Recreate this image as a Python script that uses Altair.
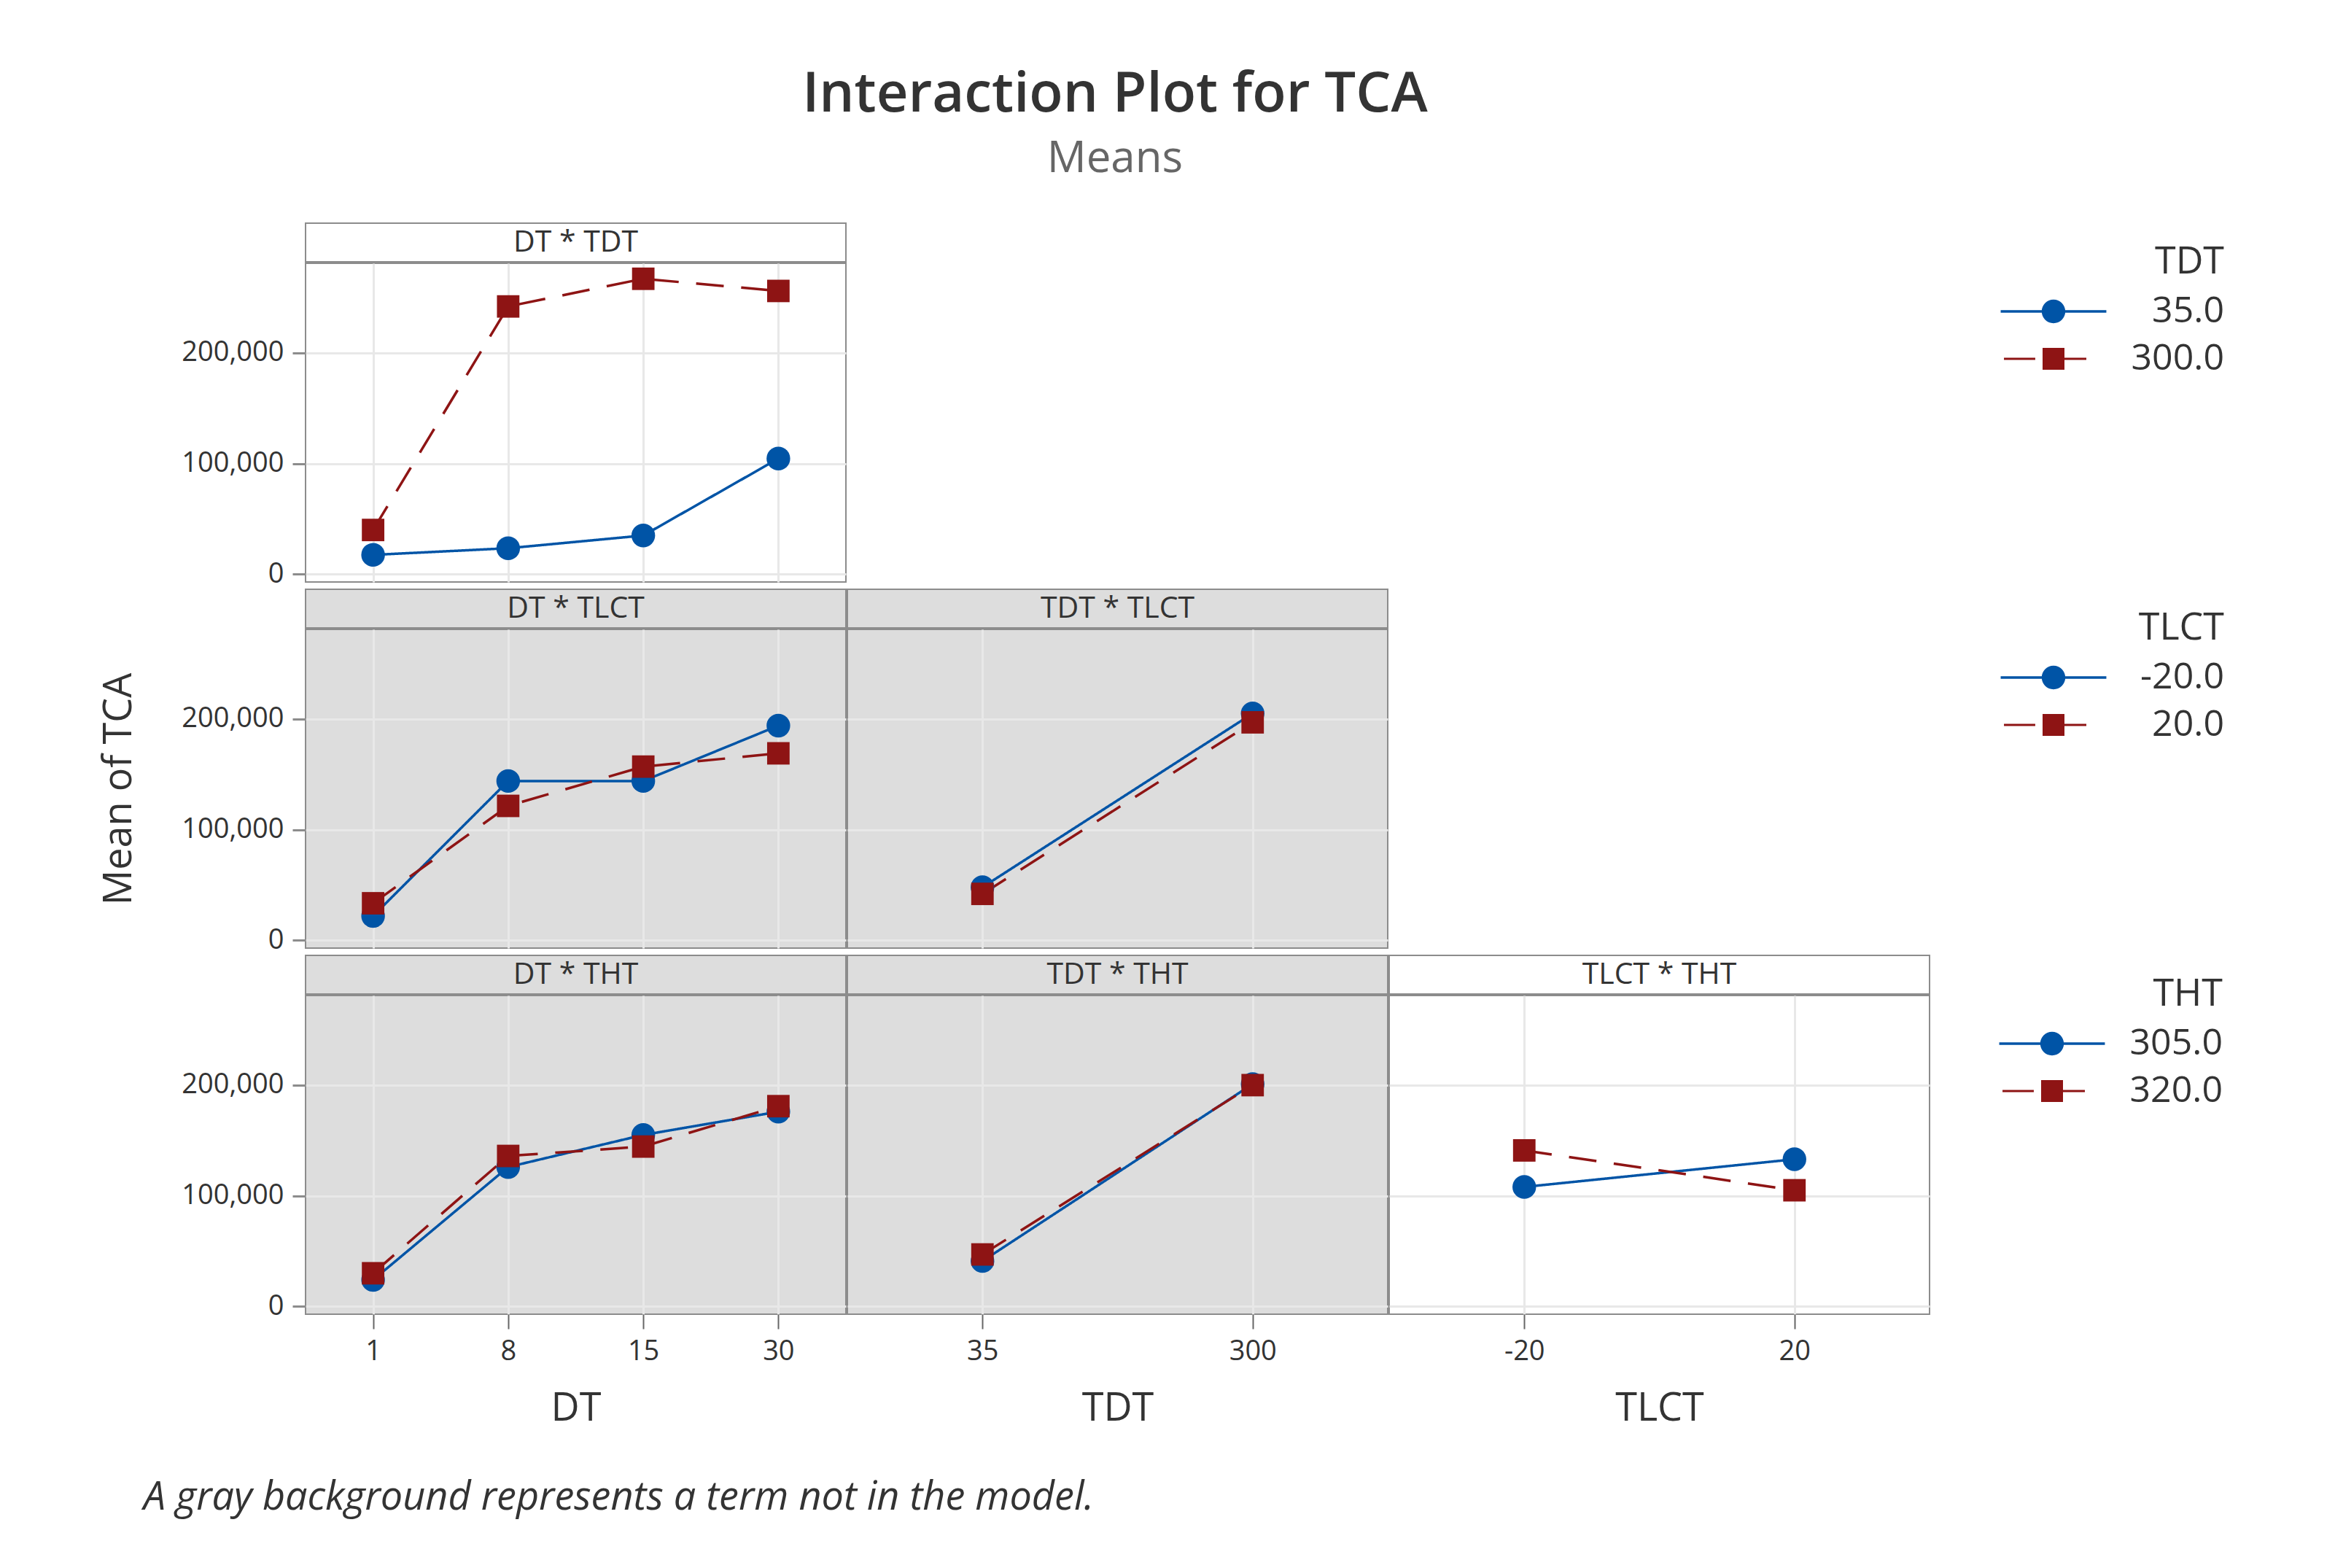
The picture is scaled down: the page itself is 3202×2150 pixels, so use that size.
import altair as alt
import pandas as pd

BLUE = "#0054a6"
RED = "#8e1414"
GRAY_BG = "#dddddd"
BORDER = "#8c8c8c"
GRID = "#e8e8e8"
TEXT = "#333333"
FONT = "Open Sans"

# factor levels (x axes)
DT_levels = ["1", "8", "15", "30"]
TDT_levels = ["35", "300"]
TLCT_levels = ["-20", "20"]

# trace levels (legends)
TDT_trace = ["35.0", "300.0"]
TLCT_trace = ["-20.0", "20.0"]
THT_trace = ["305.0", "320.0"]

# means of TCA
dt_tdt_35 = [17500, 23500, 35000, 104500]
dt_tdt_300 = [40000, 242000, 267000, 256000]
dt_tlct_m20 = [22000, 144000, 144000, 194000]
dt_tlct_20 = [33500, 121500, 157000, 169000]
tdt_tlct_m20 = [48000, 205000]
tdt_tlct_20 = [42000, 197000]
dt_tht_305 = [24000, 126000, 155000, 176000]
dt_tht_320 = [30000, 136000, 144500, 181000]
tdt_tht_305 = [41000, 201000]
tdt_tht_320 = [47000, 200000]
tlct_tht_305 = [108000, 133000]
tlct_tht_320 = [141000, 105000]

Y_DOMAIN = [-7000, 281000]
Y_TICKS = [0, 100000, 200000]

W, HH, HP = 741, 53, 437

BLUE_PATH = ("M-4.83,-0.11L4.83,-0.11L4.83,0.11L-4.83,0.11Z "
             "M-1.08,0A1.08,1.08,0,1,1,1.08,0A1.08,1.08,0,1,1,-1.08,0Z")
RED_PATH = ("M-4.53,-0.1L-1.67,-0.1L-1.67,0.1L-4.53,0.1Z "
            "M-1,-1L1,-1L1,1L-1,1Z "
            "M1,-0.1L3,-0.1L3,0.1L1,0.1Z")


def make_legend(title, offset):
    return alt.Legend(
        title=title, orient="right", offset=offset, padding=28,
        titleFont=FONT, titleFontSize=52, titleFontWeight="normal", titleColor=TEXT,
        titleAlign="right", titleAnchor="end", titlePadding=16,
        labelFont=FONT, labelFontSize=50, labelColor=TEXT, labelAlign="right",
        labelOffset=209, labelLimit=400, symbolSize=900, rowPadding=15,
        symbolStrokeWidth=0, symbolOpacity=1,
    )


def panel(title, xname, xlevels, trace, series, gray, show_x, show_y, ytitle=None, legend=None):
    rows = []
    for lev, vals in zip(trace, series):
        for i, (xv, yv) in enumerate(zip(xlevels, vals)):
            rows.append({"x": xv, "y": yv, "level": lev, "idx": i})
    df = pd.DataFrame(rows)
    fill = GRAY_BG if gray else "white"
    view = alt.ViewBackground(fill=fill, stroke=BORDER, strokeWidth=2)
    header = alt.Chart(pd.DataFrame({"t": [title]})).mark_text(
        font=FONT, fontSize=41, color=TEXT
    ).encode(text="t:N").properties(width=W, height=HH, view=view)

    if show_x:
        xaxis = alt.Axis(title=xname, labelAngle=0, labelFont=FONT, labelFontSize=38,
                         labelColor=TEXT, labelPadding=12, ticks=True, tickSize=20,
                         tickWidth=2, tickColor="#666666", domain=False, grid=True,
                         gridColor=GRID, gridWidth=3, titleFont=FONT, titleFontSize=54,
                         titleFontWeight="normal", titleColor=TEXT, titlePadding=32)
    else:
        xaxis = alt.Axis(title=None, labels=False, ticks=False, domain=False, grid=True,
                         gridColor=GRID, gridWidth=3)
    if show_y:
        yaxis = alt.Axis(title=ytitle, values=Y_TICKS, format=",d", labelFont=FONT,
                         labelFontSize=38, labelColor=TEXT, labelPadding=12, tickSize=18,
                         tickWidth=3, tickColor=BORDER, domain=False, grid=True,
                         gridColor=GRID, gridWidth=3, titleFont=FONT, titleFontSize=54,
                         titleFontWeight="normal", titleColor=TEXT, titlePadding=58)
    else:
        yaxis = alt.Axis(title=None, values=Y_TICKS, labels=False, ticks=False,
                         domain=False, grid=True, gridColor=GRID, gridWidth=3)

    color_scale = alt.Scale(domain=trace, range=[BLUE, RED])
    base = alt.Chart(df).encode(
        x=alt.X("x:N", sort=xlevels,
                scale=alt.Scale(type="point", padding=0.5, domain=xlevels), axis=xaxis),
        y=alt.Y("y:Q", scale=alt.Scale(domain=Y_DOMAIN, nice=False, zero=False), axis=yaxis),
        color=alt.Color("level:N", sort=trace, scale=color_scale),
    )
    layers = [base.mark_line(strokeWidth=3.5).encode(
        strokeDash=alt.StrokeDash("level:N", sort=trace,
                                  scale=alt.Scale(domain=trace, range=[[1, 0], [38, 24]]),
                                  legend=None),
        order="idx:Q",
    )]
    for lev, shp, sz in zip(trace, ["circle", "square"], [1050, 950]):
        layers.append(base.transform_filter(alt.datum.level == lev).mark_point(
            filled=True, size=sz, opacity=1, shape=shp))
    if legend is not None:
        layers.append(base.transform_filter("false").mark_point(
            filled=True, size=900, opacity=1).encode(
            color=alt.Color("level:N", sort=trace, scale=color_scale, legend=legend),
            shape=alt.Shape("level:N", sort=trace,
                            scale=alt.Scale(domain=trace, range=[BLUE_PATH, RED_PATH]),
                            legend=legend),
        ))
    plot = alt.layer(*layers).properties(width=W, height=HP, view=view)
    return alt.vconcat(header, plot, spacing=0)


p11 = panel("DT * TDT", "DT", DT_levels, TDT_trace, [dt_tdt_35, dt_tdt_300],
            False, False, True, legend=make_legend("TDT", 1602))
p21 = panel("DT * TLCT", "DT", DT_levels, TLCT_trace, [dt_tlct_m20, dt_tlct_20],
            True, False, True, ytitle="Mean of TCA", legend=make_legend("TLCT", 859))
p22 = panel("TDT * TLCT", "TDT", TDT_levels, TLCT_trace, [tdt_tlct_m20, tdt_tlct_20],
            True, False, False)
p31 = panel("DT * THT", "DT", DT_levels, THT_trace, [dt_tht_305, dt_tht_320],
            True, True, True, legend=make_legend("THT", 114))
p32 = panel("TDT * THT", "TDT", TDT_levels, THT_trace, [tdt_tht_305, tdt_tht_320],
            True, True, False)
p33 = panel("TLCT * THT", "TLCT", TLCT_levels, THT_trace, [tlct_tht_305, tlct_tht_320],
            False, True, False)

row1 = alt.hconcat(p11, spacing=0)
row2 = alt.hconcat(p21, p22, spacing=0)
row3 = alt.hconcat(p31, p32, p33, spacing=0).properties(
    title=alt.TitleParams(
        text="A gray background represents a term not in the model.",
        orient="bottom", anchor="start", font=FONT, fontSize=54, fontStyle="italic",
        fontWeight="normal", color=TEXT, offset=68, dx=-51,
    )
)

chart = alt.vconcat(row1, row2, row3, spacing=-2).resolve_scale(
    color="independent", shape="independent", strokeDash="independent"
).properties(
    title=alt.TitleParams(
        text="Interaction Plot for TCA", subtitle="Means", anchor="middle",
        font=FONT, fontSize=76, fontWeight=600, color=TEXT,
        subtitleFont=FONT, subtitleFontSize=60, subtitleColor="#666666",
        subtitlePadding=20, offset=56, dx=-78,
    ),
    padding={"left": 127, "top": 84, "right": 40, "bottom": 40},
    background="white",
)

chart.save("out.html", embed_options={"renderer": "svg", "actions": False})
